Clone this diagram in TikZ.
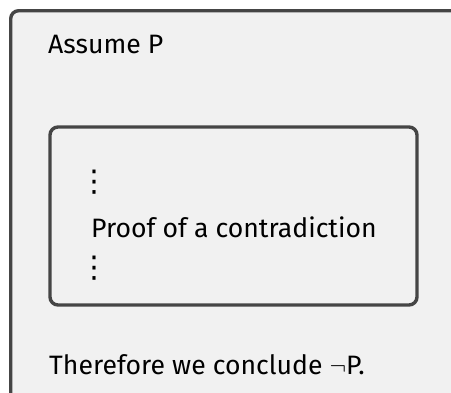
\documentclass[tikz,border=0pt]{standalone}
\usepackage{fontspec}
\setmainfont{Fira Sans}
\newfontfamily\dotsfont{DejaVu Sans}
\definecolor{boxfill}{HTML}{F1F1F1}
\definecolor{boxline}{HTML}{454545}
\tikzset{
  framebox/.style={draw=boxline, line width=3.4pt, fill=boxfill, rounded corners=8pt, inner sep=0pt},
  txt/.style={anchor=base west, inner sep=0pt, font=\fontsize{26.6}{30}\selectfont, text=black},
  vdotsnode/.style={anchor=center, inner sep=0pt, font=\dotsfont\fontsize{30}{34}\selectfont, text=black}
}
\begin{document}
\begin{tikzpicture}[x=1pt,y=-1pt]
\useasboundingbox (0,0) rectangle (451,392);
\clip (0,0) rectangle (451,392);
\node[framebox, anchor=north west, minimum width=470pt, minimum height=420pt] (outer) at (9,9) {};
\node[framebox, minimum width=367pt, minimum height=178pt] (inner) at (233.5,216) {};
\node[txt] (assume) at (48,53) {Assume P};
\node[vdotsnode] (dotsA) at (94,182) {⋮};
\node[txt] (proof) at (91,237) {Proof of a contradiction};
\node[vdotsnode] (dotsB) at (94,268) {⋮};
\node[txt] (concl) at (49,374) {Therefore we conclude $\neg$P.};
\end{tikzpicture}
\end{document}
